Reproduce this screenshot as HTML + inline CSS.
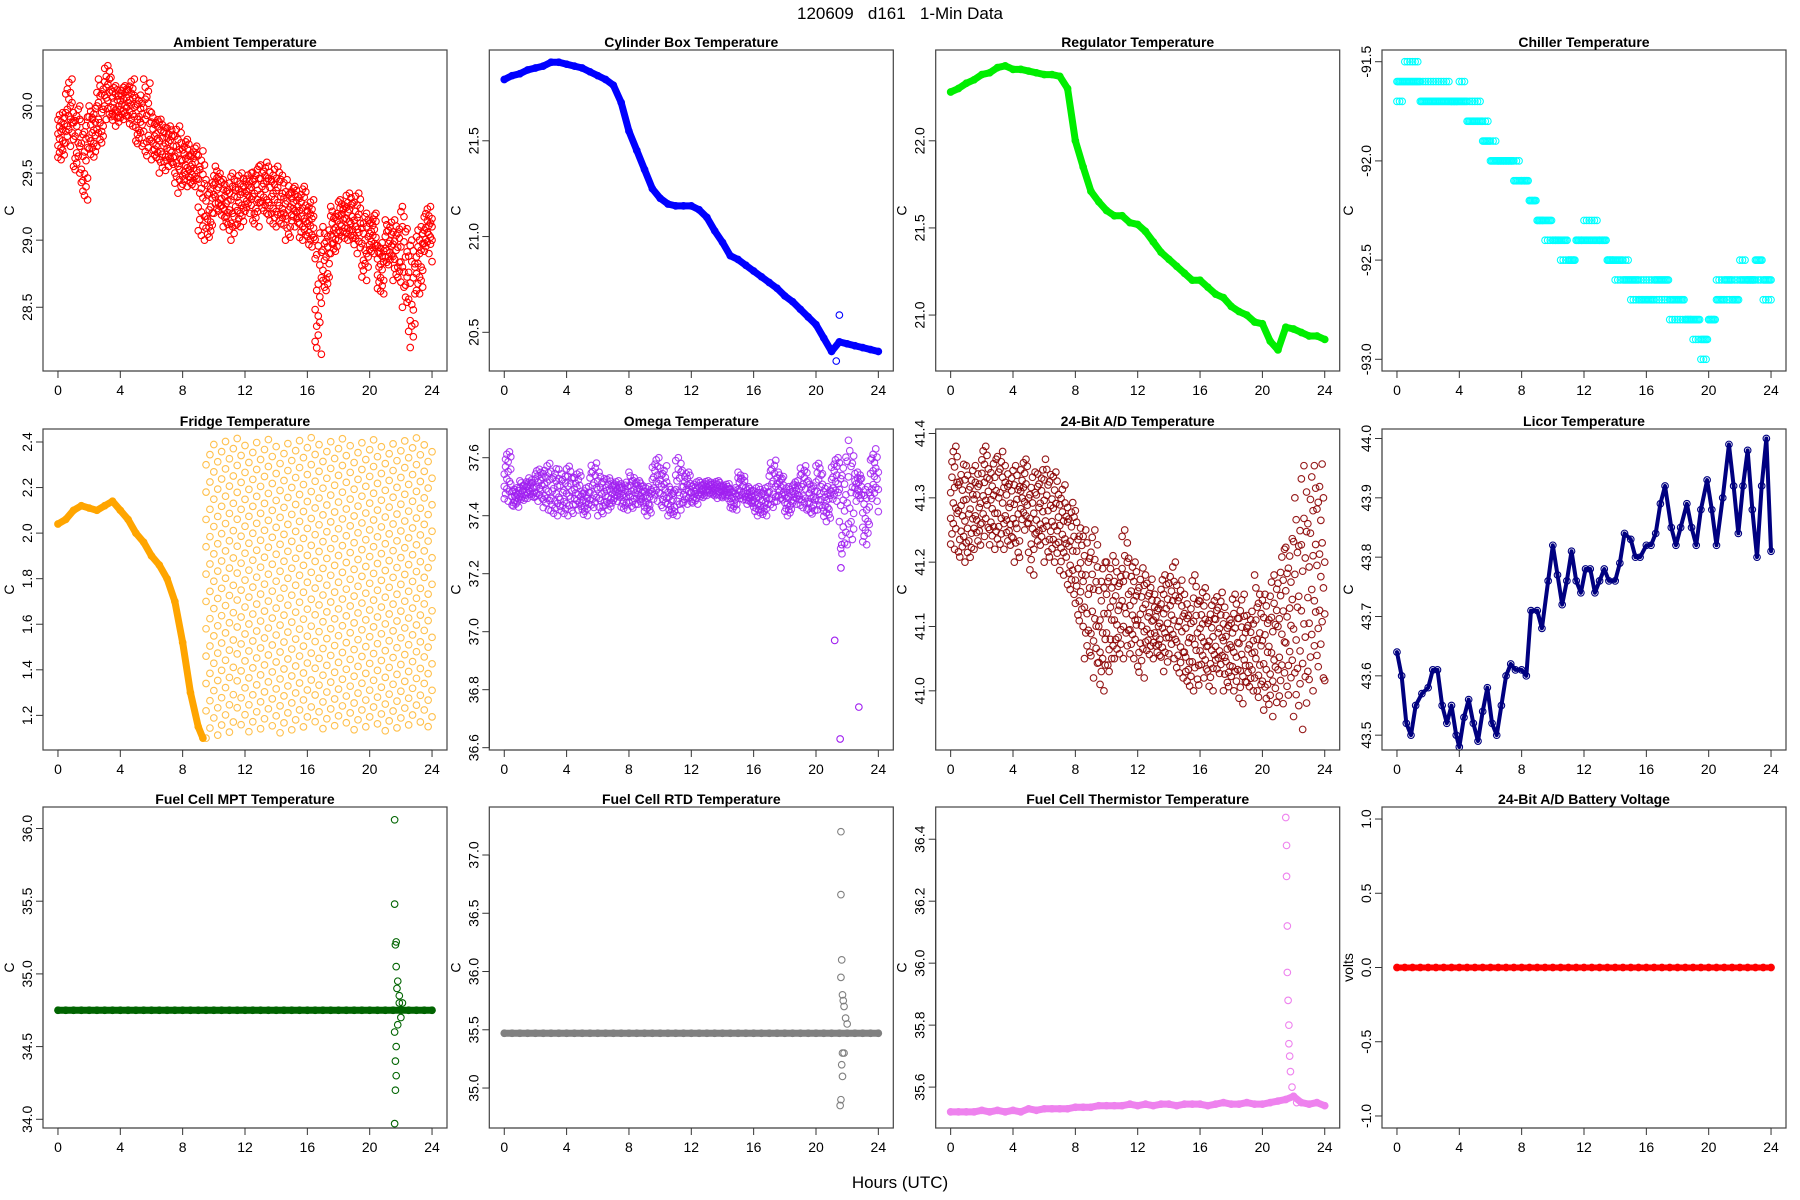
<!DOCTYPE html>
<html><head><meta charset="utf-8"><style>
html,body{margin:0;padding:0;background:#fff;}
svg{display:block;font-family:"Liberation Sans",Arial,sans-serif;}
</style></head><body>
<svg id="fig" width="1800" height="1200" viewBox="0 0 1800 1200" xmlns="http://www.w3.org/2000/svg">
<rect x="0" y="0" width="1800" height="1200" fill="#fff"/>
<text x="900" y="19" text-anchor="middle" font-size="17" style="white-space:pre" xml:space="preserve">120609   d161   1-Min Data</text>
<text x="900" y="1188" text-anchor="middle" font-size="17">Hours (UTC)</text>
</svg>
<script>
const hours=[0,0.5,1,1.5,2,2.5,3,3.5,4,4.5,5,5.5,6,6.5,7,7.5,8,8.5,9,9.5,10,10.5,11,11.5,12,12.5,13,13.5,14,14.5,15,15.5,16,16.5,17,17.5,18,18.5,19,19.5,20,20.5,21,21.5,22,22.5,23,23.5,24];
const xTicks=[0,4,8,12,16,20,24];
const ambLo=[29.6,29.7,29.5,29.3,29.6,29.7,29.9,29.85,29.9,29.85,29.7,29.6,29.6,29.5,29.55,29.35,29.4,29.4,29.0,29.0,29.2,29.1,29.0,29.1,29.2,29.1,29.2,29.1,29.1,29.0,29.1,29.0,28.95,28.15,28.6,28.9,29.0,29.0,28.9,28.7,28.9,28.6,28.8,28.7,28.5,28.2,28.6,28.9,28.8];
const ambHi=[29.95,30.2,30.0,29.95,30.0,30.2,30.3,30.15,30.15,30.2,30.1,30.2,29.95,29.9,29.85,29.85,29.75,29.7,29.7,29.45,29.55,29.45,29.5,29.5,29.5,29.55,29.6,29.55,29.55,29.45,29.4,29.4,29.3,29.1,29.1,29.25,29.3,29.35,29.35,29.2,29.2,29.0,29.15,29.15,29.25,29.0,29.1,29.25,29.2];
const cylV=[21.82,21.84,21.85,21.87,21.88,21.89,21.91,21.91,21.9,21.89,21.88,21.86,21.84,21.82,21.79,21.7,21.55,21.45,21.35,21.25,21.2,21.17,21.16,21.16,21.16,21.14,21.1,21.03,20.97,20.9,20.88,20.85,20.82,20.79,20.76,20.73,20.69,20.66,20.62,20.58,20.54,20.47,20.4,20.45,20.44,20.43,20.42,20.41,20.4];
const cylOutT=[21.3,21.5];
const cylOutV=[20.35,20.59];
const regV=[22.28,22.3,22.33,22.35,22.38,22.39,22.42,22.43,22.41,22.41,22.4,22.39,22.38,22.38,22.37,22.3,22.0,21.85,21.71,21.65,21.6,21.57,21.57,21.53,21.52,21.48,21.42,21.36,21.32,21.28,21.24,21.2,21.2,21.16,21.12,21.1,21.05,21.02,21.0,20.96,20.95,20.85,20.8,20.93,20.92,20.9,20.88,20.88,20.86];
const chilMain=[-91.6,-91.6,-91.6,-91.7,-91.7,-91.7,-91.7,-91.7,-91.7,-91.8,-91.8,-91.9,-92.0,-92.0,-92.0,-92.1,-92.1,-92.2,-92.3,-92.3,-92.4,-92.4,-92.5,-92.4,-92.4,-92.4,-92.4,-92.5,-92.5,-92.6,-92.6,-92.7,-92.7,-92.6,-92.6,-92.7,-92.7,-92.8,-92.8,-92.9,-92.8,-92.7,-92.6,-92.7,-92.6,-92.6,-92.5,-92.6,-92.7];
const chilAlt=[-91.7,-91.5,-91.5,-91.6,-91.6,-91.6,-91.6,-91.7,-91.6,-91.7,-91.7,-91.8,-91.9,-92.0,-92.0,-92.0,-92.1,-92.2,-92.3,-92.4,-92.4,-92.5,-92.5,-92.4,-92.3,-92.3,-92.4,-92.5,-92.6,-92.5,-92.7,-92.6,-92.6,-92.7,-92.7,-92.8,-92.8,-92.8,-92.9,-93.0,-92.8,-92.6,-92.7,-92.6,-92.5,-92.6,-92.6,-92.7,-92.6];
const fridgeT=[0,0.5,1,1.5,2,2.5,3,3.5,4,4.5,5,5.5,6,6.5,7,7.5,8,8.5,9,9.3];
const fridgeV=[2.04,2.06,2.1,2.12,2.11,2.1,2.12,2.14,2.1,2.06,2.0,1.96,1.9,1.86,1.8,1.7,1.52,1.3,1.15,1.1];
const latT=[9.5,10,10.5,11,11.5,12,12.5,13,13.5,14,14.5,15,15.5,16,16.5,17,17.5,18,18.5,19,19.5,20,20.5,21,21.5,22,22.5,23,23.5,24];
const fridgeLo=[1.1,1.1,1.1,1.1,1.12,1.12,1.12,1.12,1.12,1.12,1.12,1.12,1.12,1.12,1.13,1.13,1.13,1.13,1.13,1.13,1.13,1.13,1.13,1.13,1.13,1.13,1.13,1.13,1.14,1.14];
const fridgeHi=[2.42,2.42,2.42,2.42,2.42,2.42,2.42,2.42,2.42,2.42,2.42,2.42,2.42,2.42,2.42,2.42,2.42,2.42,2.42,2.42,2.42,2.42,2.42,2.42,2.42,2.42,2.42,2.42,2.42,2.42];
const omegaLo=[37.45,37.43,37.45,37.46,37.45,37.42,37.4,37.4,37.4,37.42,37.4,37.42,37.4,37.42,37.45,37.42,37.42,37.44,37.4,37.45,37.42,37.4,37.4,37.44,37.44,37.46,37.47,37.46,37.46,37.42,37.45,37.44,37.4,37.4,37.42,37.45,37.4,37.44,37.42,37.4,37.42,37.38,37.45,37.25,37.3,37.45,37.3,37.45,37.38];
const omegaHi=[37.62,37.5,37.52,37.53,37.56,37.58,37.57,37.56,37.57,37.55,37.5,37.59,37.55,37.53,37.52,37.52,37.55,37.52,37.5,37.6,37.58,37.5,37.6,37.55,37.52,37.52,37.52,37.52,37.51,37.5,37.55,37.5,37.5,37.5,37.6,37.55,37.5,37.52,37.58,37.52,37.58,37.5,37.6,37.62,37.66,37.55,37.5,37.64,37.55];
const omegaOutT=[21.2,21.55,22.75,21.6,21.65];
const omegaOutV=[36.97,36.63,36.74,37.22,37.3];
const adLo=[41.22,41.2,41.2,41.22,41.24,41.22,41.22,41.22,41.2,41.25,41.18,41.22,41.2,41.2,41.18,41.15,41.1,41.05,41.02,41.0,41.02,41.05,41.05,41.05,41.02,41.05,41.05,41.03,41.05,41.02,41.0,41.0,41.02,41.0,41.02,41.0,41.0,40.98,41.0,40.98,40.97,40.96,40.98,40.98,40.96,40.94,41.0,41.02,40.97];
const adHi=[41.38,41.36,41.35,41.35,41.38,41.36,41.38,41.35,41.35,41.36,41.34,41.35,41.36,41.34,41.32,41.3,41.28,41.25,41.25,41.2,41.22,41.2,41.25,41.2,41.2,41.18,41.15,41.18,41.2,41.18,41.15,41.18,41.16,41.14,41.16,41.13,41.15,41.15,41.13,41.18,41.15,41.18,41.22,41.25,41.3,41.35,41.35,41.37,41.2];
const licorT=[0,0.3,0.6,0.9,1.2,1.6,2,2.3,2.6,2.9,3.2,3.5,3.8,4.0,4.3,4.6,4.9,5.2,5.5,5.8,6.1,6.4,6.7,7,7.3,7.6,8,8.3,8.6,9,9.3,9.7,10,10.3,10.6,10.9,11.2,11.5,11.8,12.1,12.4,12.7,13,13.3,13.6,14,14.3,14.6,15,15.3,15.6,16,16.3,16.6,16.9,17.2,17.6,17.9,18.2,18.6,18.9,19.2,19.5,19.9,20.2,20.5,20.9,21.3,21.6,21.9,22.2,22.5,22.8,23.1,23.4,23.7,24];
const licorV=[43.64,43.6,43.52,43.5,43.55,43.57,43.58,43.61,43.61,43.55,43.52,43.55,43.5,43.48,43.53,43.56,43.52,43.49,43.54,43.58,43.52,43.5,43.55,43.6,43.62,43.61,43.61,43.6,43.71,43.71,43.68,43.76,43.82,43.77,43.72,43.76,43.81,43.76,43.74,43.78,43.78,43.74,43.76,43.78,43.76,43.76,43.79,43.84,43.83,43.8,43.8,43.82,43.82,43.84,43.89,43.92,43.85,43.82,43.85,43.89,43.85,43.82,43.88,43.93,43.88,43.82,43.9,43.99,43.92,43.84,43.92,43.98,43.88,43.8,43.92,44.0,43.81];
const mptV=[34.75,34.75,34.75,34.75,34.75,34.75,34.75,34.75,34.75,34.75,34.75,34.75,34.75,34.75,34.75,34.75,34.75,34.75,34.75,34.75,34.75,34.75,34.75,34.75,34.75,34.75,34.75,34.75,34.75,34.75,34.75,34.75,34.75,34.75,34.75,34.75,34.75,34.75,34.75,34.75,34.75,34.75,34.75,34.75,34.75,34.75,34.75,34.75,34.75];
const mptOutT=[21.6,21.6,21.7,21.65,21.7,21.8,21.75,21.9,21.6,21.7,21.65,21.7,21.65,21.6,21.8,21.9,22.0,22.1];
const mptOutV=[36.06,35.48,35.22,35.2,35.05,34.95,34.9,34.85,34.6,34.5,34.4,34.3,34.2,33.97,34.65,34.8,34.7,34.8];
const rtdV=[35.47,35.47,35.47,35.47,35.47,35.47,35.47,35.47,35.47,35.47,35.47,35.47,35.47,35.47,35.47,35.47,35.47,35.47,35.47,35.47,35.47,35.47,35.47,35.47,35.47,35.47,35.47,35.47,35.47,35.47,35.47,35.47,35.47,35.47,35.47,35.47,35.47,35.47,35.47,35.47,35.47,35.47,35.47,35.47,35.47,35.47,35.47,35.47,35.47];
const rtdOutT=[21.6,21.6,21.65,21.6,21.7,21.75,21.8,21.9,21.7,21.65,21.7,21.6,21.55,21.8,22.0];
const rtdOutV=[37.2,36.66,36.1,35.95,35.8,35.75,35.7,35.6,35.3,35.2,35.1,34.9,34.85,35.3,35.55];
const thermV=[35.52,35.52,35.52,35.52,35.525,35.52,35.525,35.52,35.525,35.52,35.53,35.525,35.53,35.53,35.53,35.53,35.535,35.535,35.535,35.54,35.54,35.54,35.54,35.545,35.54,35.545,35.54,35.545,35.545,35.54,35.545,35.545,35.545,35.54,35.545,35.55,35.545,35.545,35.55,35.545,35.545,35.55,35.555,35.56,35.57,35.55,35.545,35.55,35.54];
const thermOutT=[21.5,21.55,21.55,21.6,21.6,21.65,21.7,21.7,21.75,21.8,21.9,22.0,22.2];
const thermOutV=[36.47,36.38,36.28,36.12,35.97,35.88,35.8,35.74,35.7,35.65,35.6,35.57,35.55];
const battV=[0,0,0,0,0,0,0,0,0,0,0,0,0,0,0,0,0,0,0,0,0,0,0,0,0,0,0,0,0,0,0,0,0,0,0,0,0,0,0,0,0,0,0,0,0,0,0,0,0];
const ambTicks=[28.5,29.0,29.5,30.0];
const cylTicks=[20.5,21.0,21.5];
const regTicks=[21.0,21.5,22.0];
const chilTicks=[-93.0,-92.5,-92.0,-91.5];
const fridgeTicks=[1.2,1.4,1.6,1.8,2.0,2.2,2.4];
const omegaTicks=[36.6,36.8,37.0,37.2,37.4,37.6];
const adTicks=[41.0,41.1,41.2,41.3,41.4];
const licorTicks=[43.5,43.6,43.7,43.8,43.9,44.0];
const mptTicks=[34.0,34.5,35.0,35.5,36.0];
const rtdTicks=[35.0,35.5,36.0,36.5,37.0];
const thermTicks=[35.6,35.8,36.0,36.2,36.4];
const battTicks=[-1.0,-0.5,0.0,0.5,1.0];

const NS="http://www.w3.org/2000/svg";
const svg=document.getElementById('fig');
const COLX=[43,489.3,935.7,1382], ROWY=[50,429,807], PW=404, PH=321;
const X0=-0.96, X1=24.96;
const FR=[0.05,0.55,0.3,0.85,0.15,0.7,0.45,0.95,0.25,0.6,0.0,0.8,0.4,1.0,0.2,0.65,0.35,0.9,0.1,0.75,0.5,0.22,0.78];
function mk(tag,attrs,parent){const e=document.createElementNS(NS,tag);for(const k in attrs)e.setAttribute(k,attrs[k]);(parent||svg).appendChild(e);return e;}
function makePanel(col,row,title,ylab,ylim,yticks,dec,name){
  const p={x:COLX[col],y:ROWY[row],ylim:ylim};
  p.sx=t=>p.x+(t-X0)/(X1-X0)*PW;
  p.sy=v=>p.y+(ylim[1]-v)/(ylim[1]-ylim[0])*PH;
  const g=mk('g',{});
  
  
  p.g=g;
  const marks=mk('g',{},g);
  
  
  p.m=marks;
  const box=mk('rect',{x:p.x,y:p.y,width:PW,height:PH,fill:'none',stroke:'#444','stroke-width':1.2},g);
  
  
  const tt=mk('text',{x:p.x+PW/2,y:p.y-3,'text-anchor':'middle','font-size':14,'font-weight':'bold'},g);
  tt.textContent=title;
  
  
  const xa=mk('g',{},g);
  
  
  mk('line',{x1:p.sx(xTicks[0]),x2:p.sx(xTicks[xTicks.length-1]),y1:p.y+PH,y2:p.y+PH,stroke:'#333'},xa);
  xTicks.forEach(t=>{
    mk('line',{x1:p.sx(t),x2:p.sx(t),y1:p.y+PH,y2:p.y+PH+7,stroke:'#333'},xa);
    const l=mk('text',{x:p.sx(t),y:p.y+PH+24,'text-anchor':'middle','font-size':14},xa);
    l.textContent=t;
    
    
  });
  const ya=mk('g',{},g);
  
  
  mk('line',{x1:p.x,x2:p.x,y1:p.sy(yticks[0]),y2:p.sy(yticks[yticks.length-1]),stroke:'#333'},ya);
  yticks.forEach(v=>{
    const y=p.sy(v);
    mk('line',{x1:p.x-7,x2:p.x,y1:y,y2:y,stroke:'#333'},ya);
    const l=mk('text',{x:0,y:0,'text-anchor':'middle','font-size':14,transform:`translate(${p.x-11},${y}) rotate(-90)`},ya);
    l.textContent=v.toFixed(dec);
    
    
  });
  const yl=mk('text',{x:0,y:0,'text-anchor':'middle','font-size':14,transform:`translate(${p.x-29},${p.y+PH/2}) rotate(-90)`},g);
  yl.textContent=ylab;
  
  
  return p;
}
function circ(p,t,v,color,op){
  const c=mk('circle',{cx:p.sx(t),cy:p.sy(v),r:3.3,fill:'none',stroke:color,'stroke-width':1.1,'stroke-opacity':op||1},p.m);
  
  
}
function chain(p,ts,vs,color,w){
  const pts=ts.map((t,i)=>p.sx(t)+','+p.sy(vs[i])).join(' ');
  const pl=mk('polyline',{points:pts,fill:'none',stroke:color,'stroke-width':w,'stroke-linejoin':'round','stroke-linecap':'round'},p.m);
  
  
  ts.forEach((t,i)=>circ(p,t,vs[i],color));
}
function band(p,ts,lo,hi,color,nSub,m,op){
  let idx=0;
  for(let i=0;i<ts.length;i++){
    const step=i<ts.length-1?ts[i+1]-ts[i]:0;
    const ns=i<ts.length-1?nSub:1;
    for(let s=0;s<ns;s++){
      const t=ts[i]+step*s/ns;
      for(let k=0;k<m;k++){
        const f=FR[(idx++)%FR.length];
        circ(p,t,lo[i]+(hi[i]-lo[i])*f,color,op);
      }
    }
  }
}
function lattice(p,ts,lo,hi,color,nSub,m,op){
  let col=0;
  for(let i=0;i<ts.length;i++){
    const step=i<ts.length-1?ts[i+1]-ts[i]:0;
    const ns=i<ts.length-1?nSub:1;
    for(let s=0;s<ns;s++){
      const t=ts[i]+step*s/ns;
      const off=(col*0.37)%1;
      col++;
      for(let k=0;k<m;k++){
        const f=(k+off)/m;
        circ(p,t,lo[i]+(hi[i]-lo[i])*f,color,op);
      }
    }
  }
}
function steps(p,ts,vs,color,nSub){
  for(let i=0;i<ts.length;i++){
    const step=i<ts.length-1?ts[i+1]-ts[i]:0;
    const ns=i<ts.length-1?nSub:1;
    for(let s=0;s<ns;s++) circ(p,ts[i]+step*s/ns,vs[i],color);
  }
}
function outs(p,ts,vs,color){ts.forEach((t,i)=>circ(p,t,vs[i],color));}

let p;
p=makePanel(0,0,'Ambient Temperature','C',[28.025,30.417],ambTicks,1,'ambient');
band(p,hours,ambLo,ambHi,'#ff0000',5,4);
p=makePanel(1,0,'Cylinder Box Temperature','C',[20.298,21.974],cylTicks,1,'cylinder-box');
chain(p,hours,cylV,'#0000ff',7); outs(p,cylOutT,cylOutV,'#0000ff');
p=makePanel(2,0,'Regulator Temperature','C',[20.679,22.521],regTicks,1,'regulator');
chain(p,hours,regV,'#00ee00',7);
p=makePanel(3,0,'Chiller Temperature','C',[-93.059,-91.441],chilTicks,1,'chiller');
steps(p,hours,chilMain,'#00ffff',6); steps(p,hours,chilAlt,'#00ffff',3);
p=makePanel(0,1,'Fridge Temperature','C',[1.048,2.457],fridgeTicks,1,'fridge');
chain(p,fridgeT,fridgeV,'#ffa500',7);
lattice(p,latT,fridgeLo,fridgeHi,'#ffa500',2,11,0.7);
p=makePanel(1,1,'Omega Temperature','C',[36.592,37.699],omegaTicks,1,'omega');
band(p,hours,omegaLo,omegaHi,'#a020f0',6,3,0.85); outs(p,omegaOutT,omegaOutV,'#a020f0');
p=makePanel(2,1,'24-Bit A/D Temperature','C',[40.908,41.407],adTicks,1,'ad-temperature');
band(p,hours,adLo,adHi,'#8b0000',6,3,0.9);
p=makePanel(3,1,'Licor Temperature','C',[43.475,44.016],licorTicks,1,'licor');
chain(p,licorT,licorV,'#000080',4);
p=makePanel(0,2,'Fuel Cell MPT Temperature','C',[33.94,36.148],mptTicks,1,'fuel-cell-mpt');
chain(p,hours,mptV,'#006400',7); outs(p,mptOutT,mptOutV,'#006400');
p=makePanel(1,2,'Fuel Cell RTD Temperature','C',[34.657,37.412],rtdTicks,1,'fuel-cell-rtd');
chain(p,hours,rtdV,'#808080',7); outs(p,rtdOutT,rtdOutV,'#808080');
p=makePanel(2,2,'Fuel Cell Thermistor Temperature','C',[35.468,36.504],thermTicks,1,'fuel-cell-thermistor');
chain(p,hours,thermV,'#ee82ee',7); outs(p,thermOutT,thermOutV,'#ee82ee');
p=makePanel(3,2,'24-Bit A/D Battery Voltage','volts',[-1.081,1.081],battTicks,1,'battery-voltage');
chain(p,hours,battV,'#ff0000',6);
</script>
</body></html>
